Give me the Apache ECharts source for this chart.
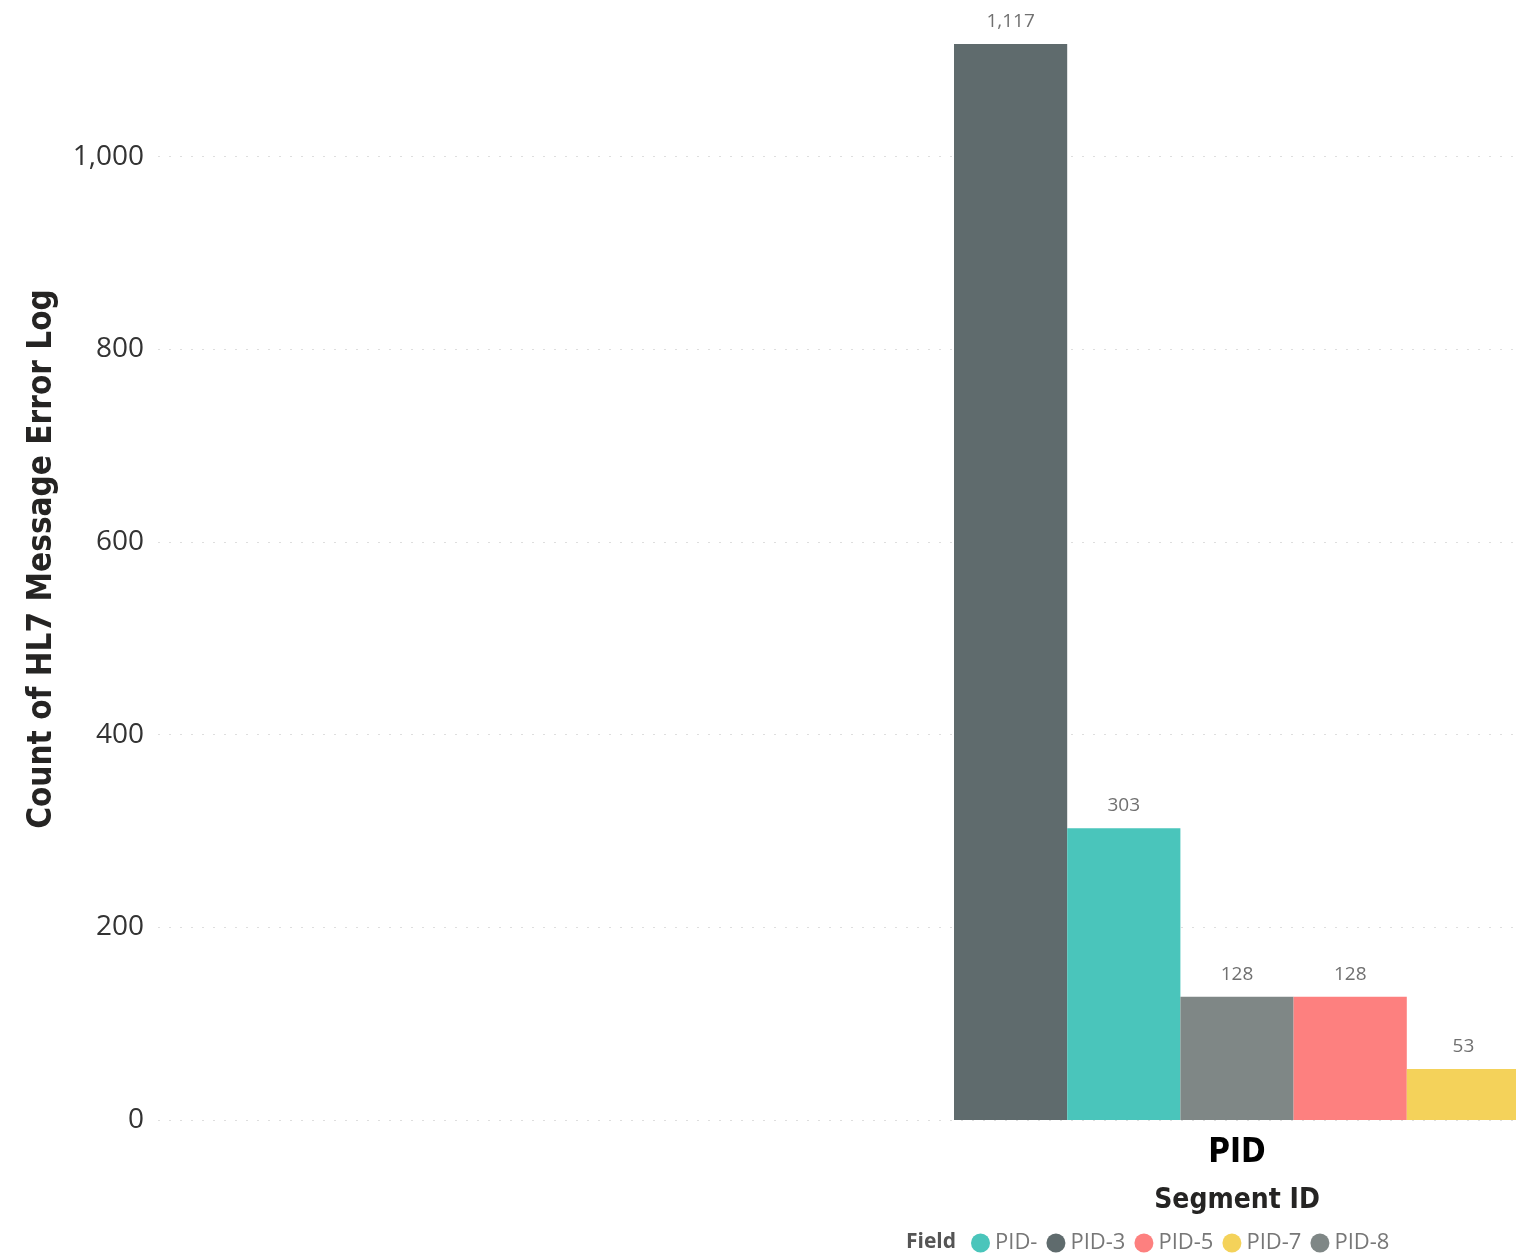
<!DOCTYPE html>
<html>
<head>
<meta charset="utf-8">
<style>
html,body{margin:0;padding:0;background:#fff;}
#chart{width:1516px;height:1257px;}
</style>
<script src="https://cdn.jsdelivr.net/npm/echarts@6/dist/echarts.min.js"></script>
</head>
<body>
<div id="chart"></div>
<script>
const categories = ['PID'];
const seriesNames = ['PID-3', 'PID-', 'PID-8', 'PID-5', 'PID-7'];
const seriesValues = [1117, 303, 128, 128, 53];
const seriesColors = ['#5F6B6D', '#4AC5BB', '#7F8786', '#FD807F', '#F4D25A'];
const legendOrder = ['PID-', 'PID-3', 'PID-5', 'PID-7', 'PID-8'];
const yTicks = [0, 200, 400, 600, 800, 1000];
const yTitle = 'Count of HL7 Message Error Log';
const xTitle = 'Segment ID';
const legendTitle = 'Field';

const fmt = v => Number(v).toLocaleString('en-US');
const boldFont = '"DejaVu Sans Condensed", "DejaVu Sans", sans-serif';
const baseFont = '"Open Sans", "Noto Sans", sans-serif';

const chart = echarts.init(document.getElementById('chart'), null, {renderer: 'canvas'});

const series = seriesNames.map((name, i) => ({
  name: name,
  type: 'bar',
  xAxisIndex: 1,
  yAxisIndex: 1,
  clip: false,
  barGap: '0%',
  barWidth: 113.2,
  itemStyle: {color: seriesColors[i]},
  label: {
    show: true,
    position: 'top',
    distance: 13,
    color: '#707070',
    fontFamily: baseFont,
    fontSize: 19,
    formatter: p => fmt(p.value)
  },
  data: categories.map(() => seriesValues[i])
}));

chart.setOption({
  animation: false,
  backgroundColor: '#ffffff',
  grid: [
    {left: 158, right: 0, top: 2.6, bottom: 137},
    {left: 958, right: 0, top: 2.6, bottom: 137}
  ],
  xAxis: [
    {gridIndex: 0, type: 'value', show: false, min: 0, max: 1},
    {
      gridIndex: 1,
      type: 'category',
      data: categories,
      axisLine: {show: false},
      axisTick: {show: false},
      axisLabel: {
        margin: 17,
        color: '#000000',
        fontFamily: boldFont,
        fontWeight: 'bold',
        fontSize: 33
      },
      name: xTitle,
      nameLocation: 'middle',
      nameGap: 67,
      nameTextStyle: {
        color: '#252423',
        fontFamily: boldFont,
        fontWeight: 'bold',
        fontSize: 28
      }
    }
  ],
  yAxis: [
    {
      gridIndex: 0,
      type: 'value',
      min: 0,
      max: 1160,
      interval: 200,
      axisLine: {show: false},
      axisTick: {show: false},
      axisLabel: {
        margin: 14,
        color: '#333333',
        fontFamily: baseFont,
        fontSize: 28,
        showMaxLabel: false,
        formatter: v => (yTicks.indexOf(v) >= 0 ? fmt(v) : '')
      },
      splitLine: {
        show: true,
        showMaxLine: false,
        lineStyle: {color: '#dedede', width: 1, type: [2, 9]}
      }
    },
    {gridIndex: 1, type: 'value', min: 0, max: 1160, interval: 200, show: false}
  ],
  legend: {
    data: legendOrder,
    left: 971,
    top: 1232,
    icon: 'circle',
    itemWidth: 19,
    itemHeight: 19,
    itemGap: 9,
    padding: 0,
    textStyle: {color: '#777777', fontFamily: baseFont, fontSize: 22}
  },
  title: {
    text: legendTitle,
    left: 906,
    top: 1232,
    padding: 0,
    textStyle: {color: '#555555', fontFamily: baseFont, fontWeight: 'bold', fontSize: 21}
  },
  graphic: [
    {
      type: 'text',
      x: 42,
      y: 559,
      rotation: Math.PI / 2,
      style: {
        text: yTitle,
        fill: '#252423',
        font: 'bold 33px ' + boldFont,
        textAlign: 'center',
        textVerticalAlign: 'middle'
      }
    }
  ],
  series: series
});
</script>
</body>
</html>
